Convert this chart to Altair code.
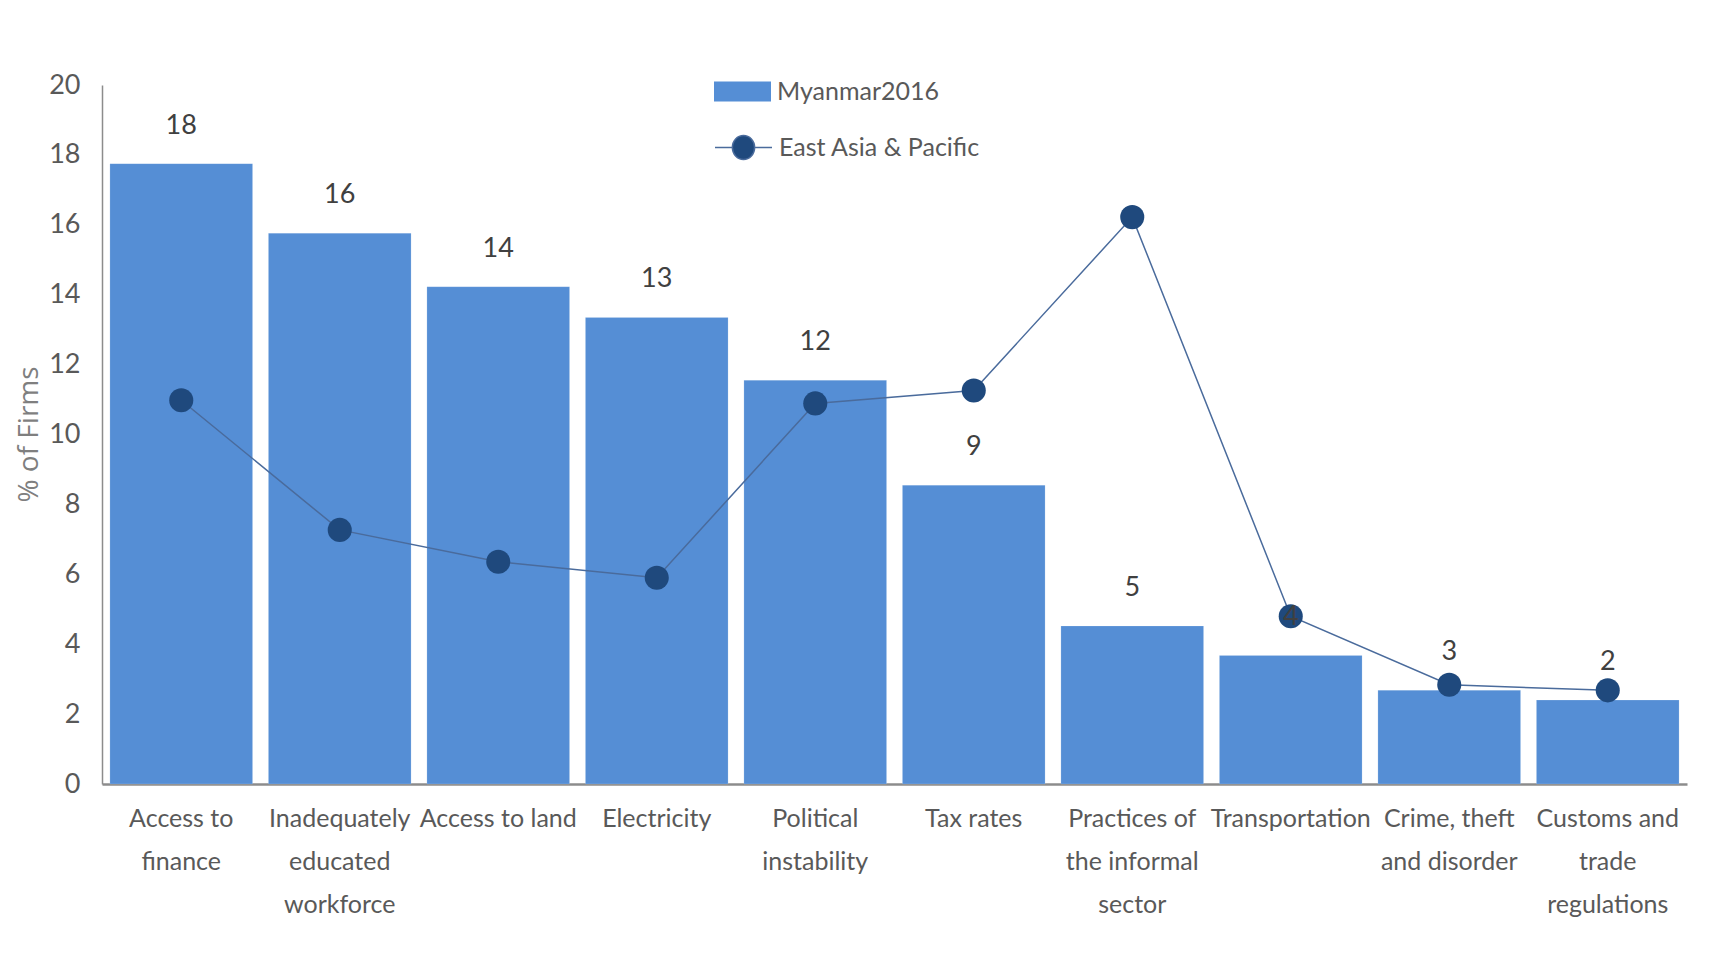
import altair as alt
import pandas as pd

categories = ["Access to|finance", "Inadequately|educated|workforce", "Access to land",
              "Electricity", "Political|instability", "Tax rates",
              "Practices of|the informal|sector", "Transportation",
              "Crime, theft|and disorder", "Customs and|trade|regulations"]
myanmar = [17.75, 15.76, 14.23, 13.35, 11.55, 8.55, 4.52, 3.68, 2.68, 2.40]
eap = [10.98, 7.27, 6.36, 5.90, 10.89, 11.26, 16.22, 4.80, 2.84, 2.68]
y_ticks = [0, 2, 4, 6, 8, 10, 12, 14, 16, 18, 20]

df = pd.DataFrame({"cat": categories, "m": myanmar, "e": eap,
                   "s1": "Myanmar2016", "s2": "East Asia & Pacific"})

FONT = "Lato"
BAR = "#558ED5"
DOT = "#1F497D"
LINE = "#4A6B9C"

x = alt.X("cat:N", sort=categories,
          scale=alt.Scale(paddingInner=0.1, paddingOuter=0.05),
          axis=alt.Axis(title=None, labelAngle=0, labelExpr="split(datum.label, '|')",
                        labelFont=FONT, labelFontSize=25, labelColor="#595959",
                        labelLineHeight=43, labelPadding=22, ticks=False,
                        domainColor="#8c8c8c", domainWidth=2.5, labelLimit=0))

y_axis = alt.Axis(title="% of Firms", values=y_ticks, grid=False, ticks=False,
                  labelFont=FONT, labelFontSize=27, labelColor="#595959", labelPadding=22,
                  domainColor="#8c8c8c", domainWidth=1.5,
                  titleFont="Open Sans", titleFontSize=28, titleFontWeight="normal",
                  titleColor="#7f7f7f", titleX=-73, titleY=349, titleBaseline="middle",
                  titleAngle=270)

sq = "M-1,-0.35L1,-0.35L1,0.35L-1,0.35Z"
ln = ("M-1,0L-0.39,0M0.39,0L1,0M-0.39,0A0.39,0.42 0 1,1 0.39,0"
      "A0.39,0.42 0 1,1 -0.39,0Z")

base = alt.Chart(df)

bars = base.mark_bar(stroke="#ffffff", strokeWidth=0.5, strokeOpacity=0.3).encode(
    x=x,
    y=alt.Y("m:Q", scale=alt.Scale(domain=[0, 20]), axis=y_axis),
    color=alt.Color("s1:N", scale=alt.Scale(range=[BAR]),
                    legend=alt.Legend(title=None, orient="none", legendX=612, legendY=-22,
                                      symbolType=sq, symbolSize=3249, symbolStrokeWidth=0,
                                      labelFont=FONT, labelFontSize=25, labelColor="#595959",
                                      labelOffset=6, padding=0, labelLimit=0)),
)

line = base.mark_line(strokeWidth=1.5).encode(
    x=x,
    y=alt.Y("e:Q"),
    stroke=alt.Stroke("s2:N", scale=alt.Scale(range=[LINE]),
                      legend=alt.Legend(title=None, orient="none", legendX=612, legendY=33,
                                        symbolType=ln, symbolSize=3249,
                                        symbolFillColor=DOT, symbolStrokeColor=LINE,
                                        symbolStrokeWidth=1.5, symbolOpacity=1,
                                        labelFont=FONT, labelFontSize=25, labelColor="#595959",
                                        labelOffset=6, padding=0, labelLimit=0)),
)

points = base.mark_point(filled=True, shape="circle", size=580, color=DOT, opacity=1).encode(
    x=x, y=alt.Y("e:Q"))

labels = base.mark_text(baseline="bottom", dy=-24, font=FONT, fontSize=27,
                        color="#404040").encode(
    x=x, y=alt.Y("m:Q"), text=alt.Text("m:Q", format=".0f"))

chart = alt.layer(bars, line, points, labels).properties(
    width=1585, height=699,
    background="#ffffff",
    autosize=alt.AutoSizeParams(type="none"),
    padding={"left": 94, "top": 77, "right": 14, "bottom": 160},
).configure_view(stroke=None)

chart.save("out.html", embed_options={"renderer": "svg", "actions": False})
